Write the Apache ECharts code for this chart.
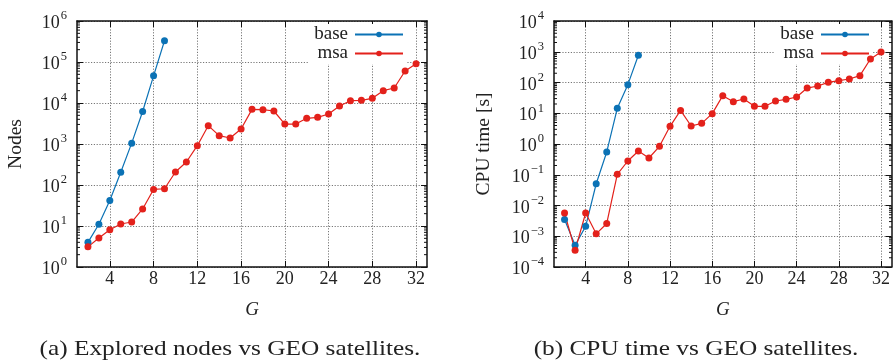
<!DOCTYPE html>
<html>
<head>
<meta charset="utf-8">
<script src="https://cdn.jsdelivr.net/npm/echarts@6/dist/echarts.min.js"></script>
<style>
  html, body { margin: 0; padding: 0; background: #fff; }
  #chart { width: 893px; height: 364px; }
</style>
</head>
<body>
<div id="chart"></div>
<script>
// Number of GEO satellites (x categories shared by both panels)
const gAxis = ['1','2','3','4','5','6','7','8','9','10','11','12','13','14','15','16','17',
               '18','19','20','21','22','23','24','25','26','27','28','29','30','31','32','33'];

const baseG = [2, 3, 4, 5, 6, 7, 8, 9];
const msaG = [2, 3, 4, 5, 6, 7, 8, 9, 10, 11, 12, 13, 14, 15, 16, 17, 18, 19, 20, 21, 22,
              23, 24, 25, 26, 27, 28, 29, 30, 31, 32];

// (a) explored nodes
const nodesBase = [4, 11, 42, 205, 1050, 6200, 46000, 330000];
const nodesMsa = [3.1, 5.1, 8.1, 11.2, 12.5, 26, 78, 81, 207, 364, 910, 2800, 1600, 1400, 2320,
                  7000, 6870, 6380, 3070, 3070, 4230, 4470, 5390, 8450, 11400, 11600, 13000,
                  20000, 23200, 60300, 91000];

// (b) CPU time in seconds
const timeBase = [0.0035, 0.00051, 0.0021, 0.051, 0.55, 14.5, 85, 770];
const timeMsa = [0.0057, 0.00035, 0.0057, 0.0012, 0.0026, 0.103, 0.28, 0.59, 0.35, 0.84, 3.76,
                 12.4, 3.85, 4.7, 9.7, 37.3, 23.8, 29, 16.8, 16.8, 25, 28.4, 33.8, 66, 77, 101,
                 115, 130, 167, 581, 982];

const captions = ['(a) Explored nodes vs GEO satellites.', '(b) CPU time vs GEO satellites.'];
const yNames = ['Nodes', 'CPU time [s]'];
const yRanges = [[1, 1e6], [1e-4, 1e4]];

const FONT = 'Liberation Serif';
const INK = '#222';
const BLUE = '#0b72b5';
const RED = '#e3211b';
const GRID_LINE = { show: true, lineStyle: { color: '#777', width: 1, type: [1.2, 1.6] } };
const AXIS_LINE = { show: true, onZero: false, lineStyle: { color: '#111', width: 1.5 } };

const everyFour = (idx, val) => Number(val) % 4 === 0;

const grids = [
  { left: 77, top: 21, width: 350, height: 246 },
  { left: 554, top: 21, width: 338, height: 246 }
];

function expLabel(v) {
  const e = Math.round(Math.log10(v));
  const s = e < 0 ? '\u2212' + (-e) : String(e);
  return '{b|10}{s|' + s + '}';
}

const labelRich = {
  b: { fontFamily: FONT, fontSize: 18, color: INK, verticalAlign: 'bottom', padding: [0, 0, 0, 0] },
  s: { fontFamily: FONT, fontSize: 12.5, color: INK, verticalAlign: 'top', padding: [0, 0, 10, 1] }
};

const xAxes = [];
const yAxes = [];
[0, 1].forEach(i => {
  xAxes[i] = {
    type: 'category', gridIndex: i, data: gAxis, boundaryGap: false,
    name: 'G', nameLocation: 'middle', nameGap: 33,
    nameTextStyle: { fontFamily: FONT, fontSize: 19, fontStyle: 'italic', color: INK },
    axisLine: AXIS_LINE,
    axisTick: { show: true, inside: true, length: 6, interval: everyFour, lineStyle: { color: '#111' } },
    axisLabel: { interval: everyFour, fontFamily: FONT, fontSize: 18, color: INK, margin: 3 },
    splitLine: Object.assign({ interval: everyFour }, GRID_LINE)
  };
  xAxes[i + 2] = {
    type: 'category', gridIndex: i, data: gAxis, boundaryGap: false, position: 'top',
    axisLine: AXIS_LINE,
    axisTick: { show: true, inside: true, length: 6, interval: everyFour, lineStyle: { color: '#111' } },
    axisLabel: { show: false }, splitLine: { show: false }
  };
  yAxes[i] = {
    type: 'log', logBase: 10, gridIndex: i, min: yRanges[i][0], max: yRanges[i][1],
    splitNumber: 10,
    name: yNames[i], nameLocation: 'middle', nameRotate: 90, nameGap: i === 0 ? 51 : 60,
    nameTextStyle: { fontFamily: FONT, fontSize: 19.5, color: INK },
    axisLine: AXIS_LINE,
    axisTick: { show: true, inside: true, length: 6, lineStyle: { color: '#111' } },
    axisLabel: { formatter: expLabel, rich: labelRich, margin: 10 },
    splitLine: GRID_LINE
  };
  yAxes[i + 2] = {
    type: 'log', logBase: 10, gridIndex: i, min: yRanges[i][0], max: yRanges[i][1],
    splitNumber: 10, position: 'right',
    axisLine: AXIS_LINE,
    axisTick: { show: true, inside: true, length: 6, lineStyle: { color: '#111' } },
    axisLabel: { show: false }, splitLine: { show: false }
  };
});

function lineSeries(name, color, i, gs, vals) {
  return {
    name, type: 'line', xAxisIndex: i, yAxisIndex: i,
    data: gs.map((g, k) => [String(g), vals[k]]),
    symbol: 'circle', symbolSize: 7, showSymbol: true, showAllSymbol: true,
    lineStyle: { color, width: 1.2 },
    itemStyle: { color },
    z: 5
  };
}

const series = [
  lineSeries('base', BLUE, 0, baseG, nodesBase),
  lineSeries('msa', RED, 0, msaG, nodesMsa),
  lineSeries('base', BLUE, 1, baseG, timeBase),
  lineSeries('msa', RED, 1, msaG, timeMsa)
];

function legendAt(right) {
  return {
    right, top: 24, orient: 'vertical', align: 'right', selectedMode: false,
    data: ['base', 'msa'], itemWidth: 48, itemHeight: 7, itemGap: 0,
    backgroundColor: '#fff', padding: [1, 2, 1, 6],
    textStyle: { fontFamily: FONT, fontSize: 19, color: INK, padding: [0, 2, 0, 0] }
  };
}

const chart = echarts.init(document.getElementById('chart'), null, { renderer: 'canvas' });
chart.setOption({
  animation: false,
  backgroundColor: '#fff',
  legend: [legendAt(893 - 406), legendAt(893 - 872)],
  grid: grids,
  xAxis: xAxes,
  yAxis: yAxes,
  series
});

// Panel captions plus minor log ticks (2..9 x 10^k) on the left and right frame
function drawDecorations() {
  const elements = [];
  [0, 1].forEach(i => {
    const g = grids[i];
    const x0 = g.left, x1 = g.left + g.width;
    const lo = Math.round(Math.log10(yRanges[i][0]));
    const hi = Math.round(Math.log10(yRanges[i][1]));
    for (let e = lo; e < hi; e++) {
      for (let m = 2; m <= 9; m++) {
        const y = chart.convertToPixel({ yAxisIndex: i }, m * Math.pow(10, e));
        [[x0, x0 + 3], [x1 - 3, x1]].forEach(([a, b]) => {
          elements.push({
            type: 'line', silent: true, z: 50,
            shape: { x1: a, y1: y, x2: b, y2: y },
            style: { stroke: '#111', lineWidth: 1 }
          });
        });
      }
    }
    elements.push({
      type: 'text', silent: true,
      x: g.left + g.width / 2 - 22 + (i === 0 ? 0 : -5), y: 349, scaleX: 1.15,
      style: {
        text: captions[i], fill: INK, font: '22px "' + FONT + '"',
        textAlign: 'center', textVerticalAlign: 'middle'
      }
    });
  });
  chart.setOption({ graphic: elements });
}
drawDecorations();
</script>
</body>
</html>
